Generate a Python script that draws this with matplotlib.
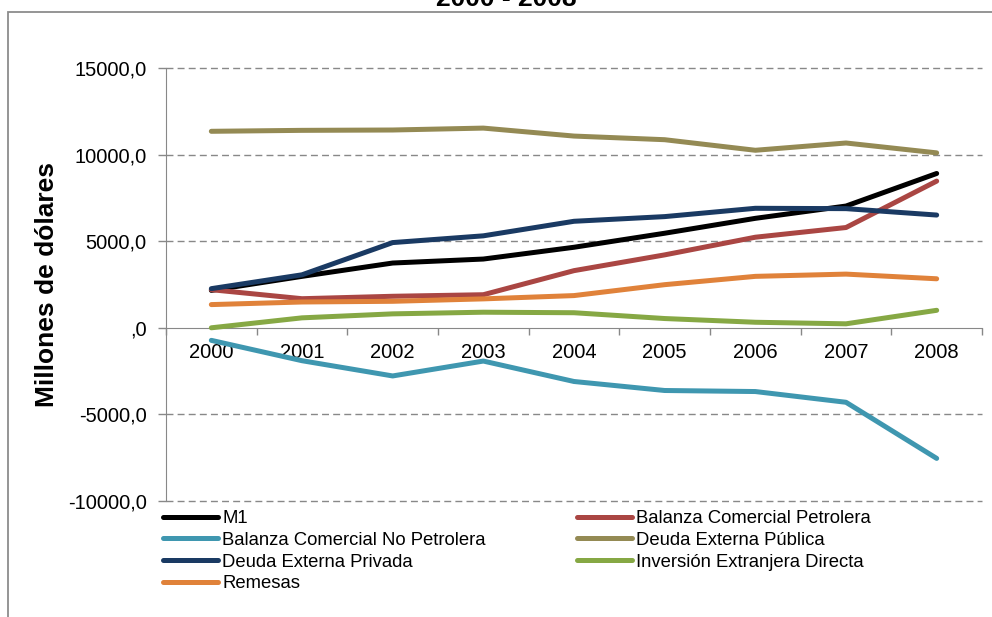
"""Indicadores externos 2000 - 2008, series en millones de dólares."""

import matplotlib

matplotlib.use("Agg")

import matplotlib.pyplot as plt
from matplotlib.patches import Rectangle
from matplotlib.ticker import FixedLocator, NullFormatter

plt.rcParams["font.family"] = ["Liberation Sans", "DejaVu Sans"]

years = ["2000", "2001", "2002", "2003", "2004", "2005", "2006", "2007", "2008"]

m1 = [2160, 2970, 3740, 3970, 4650, 5460, 6320, 7030, 8910]
bc_petrolera = [2200, 1680, 1820, 1910, 3300, 4210, 5230, 5790, 8470]
bc_no_petrolera = [-725, -1900, -2780, -1920, -3100, -3620, -3680, -4300, -7540]
deuda_publica = [11345, 11400, 11420, 11530, 11070, 10860, 10250, 10670, 10100]
deuda_privada = [2260, 3060, 4920, 5310, 6150, 6420, 6900, 6880, 6510]
ied = [0, 575, 805, 900, 870, 535, 320, 230, 1010]
remesas = [1340, 1490, 1530, 1670, 1860, 2490, 2970, 3100, 2830]

y_ticks = [-10000, -5000, 0, 5000, 10000, 15000]
y_tick_labels = ["-10000,0", "-5000,0", ",0", "5000,0", "10000,0", "15000,0"]

series = [
    ("M1", m1, "#000000"),
    ("Balanza Comercial Petrolera", bc_petrolera, "#AA4643"),
    ("Balanza Comercial No Petrolera", bc_no_petrolera, "#3F97B0"),
    ("Deuda Externa Pública", deuda_publica, "#948A54"),
    ("Deuda Externa Privada", deuda_privada, "#1A3A63"),
    ("Inversión Extranjera Directa", ied, "#86A844"),
    ("Remesas", remesas, "#E0823A"),
]

GRAY = "#888888"


def main() -> None:
    fig = plt.figure(figsize=(9.92, 6.17), dpi=100)
    ax = fig.add_axes([166 / 992, 1 - 501 / 617, 816 / 992, 433 / 617])

    x = list(range(len(years)))
    lines = {}
    for label, values, color in series:
        (line,) = ax.plot(x, values, color=color, lw=3.6, label=label,
                          solid_capstyle="round", solid_joinstyle="round")
        lines[label] = line

    ax.set_xlim(-0.5, len(years) - 0.5)
    ax.set_ylim(y_ticks[0], y_ticks[-1])

    # y axis
    ax.yaxis.set_major_locator(FixedLocator(y_ticks))
    ax.set_yticklabels(y_tick_labels)
    ax.tick_params(axis="y", direction="out", length=6, width=1, color=GRAY,
                   labelsize=14.5, pad=8)
    for val in y_ticks:
        if val != 0:
            ax.axhline(val, color=GRAY, lw=1, ls=(0, (5, 3)), zorder=0, clip_on=False)

    # x axis sits on zero, ticks between categories, labels on categories
    ax.spines["top"].set_visible(False)
    ax.spines["right"].set_visible(False)
    ax.spines["bottom"].set_position(("data", 0))
    ax.spines["bottom"].set_color(GRAY)
    ax.spines["left"].set_color(GRAY)
    ax.spines["bottom"].set_zorder(0.5)
    ax.xaxis.set_major_locator(FixedLocator([i - 0.5 for i in range(len(years) + 1)]))
    ax.xaxis.set_major_formatter(NullFormatter())
    ax.xaxis.set_minor_locator(FixedLocator(x))
    ax.set_xticklabels(years, minor=True)
    ax.tick_params(axis="x", which="major", direction="out", length=5, width=1, color=GRAY)
    ax.tick_params(axis="x", which="minor", length=0, labelsize=14.5, pad=11)

    ax.set_ylabel("Millones de dólares", fontsize=19, fontweight="bold", labelpad=6)

    order = ["M1", "Balanza Comercial No Petrolera", "Deuda Externa Privada", "Remesas",
             "Balanza Comercial Petrolera", "Deuda Externa Pública",
             "Inversión Extranjera Directa"]
    fig.legend([lines[k] for k in order], order, loc="upper left",
               bbox_to_anchor=(163 / 992, 1 - 510 / 617), ncol=2, frameon=False,
               fontsize=13.3, handlelength=3.0, handletextpad=0.2, columnspacing=4.95,
               labelspacing=0.26, borderpad=0, borderaxespad=0)

    fig.text(506.7 / 992, 1 - 6 / 617, "2000 - 2008", ha="center", va="baseline",
             fontsize=19, fontweight="bold")

    fig.add_artist(Rectangle((8 / 992, -0.1), 1.2, 1.1 - 12.5 / 617,
                             transform=fig.transFigure, fill=False,
                             edgecolor="#8C8C8C", lw=1.3))

    fig.savefig("out.png", dpi=100)


if __name__ == "__main__":
    main()
